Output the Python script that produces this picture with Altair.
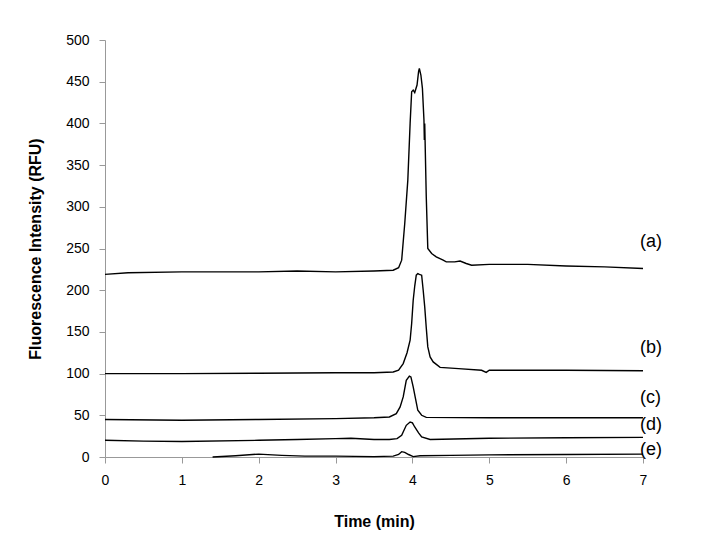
import altair as alt
import pandas as pd

# Trace (a)
a_t = [0.0, 0.3, 1.0, 2.0, 2.5, 3.0, 3.5, 3.75, 3.82, 3.86, 3.90, 3.94, 3.97, 3.99, 4.01, 4.03, 4.06, 4.08, 4.09, 4.11, 4.13, 4.15, 4.155, 4.16, 4.18, 4.20, 4.25, 4.31, 4.40, 4.44, 4.55, 4.62, 4.70, 4.77, 5.0, 5.5, 6.0, 6.5, 7.0]
a_v = [219, 221, 222, 222, 223, 222, 223, 224, 227, 236, 280, 332, 400, 438, 440, 437, 446, 462, 466, 458, 442, 404, 380, 400, 312, 250, 244, 240, 236, 234, 234, 235, 232, 230, 231, 231, 229, 228, 226]

# Trace (b)
b_t = [0.0, 1.0, 2.0, 3.0, 3.5, 3.75, 3.82, 3.88, 3.93, 3.97, 3.99, 4.01, 4.03, 4.05, 4.07, 4.09, 4.12, 4.14, 4.16, 4.18, 4.20, 4.23, 4.27, 4.36, 4.6, 4.9, 4.96, 5.0, 5.5, 6.0, 7.0]
b_v = [100, 100, 100.5, 101, 101, 102, 104, 112, 125, 140, 160, 188, 205, 218, 220, 219, 218, 200, 180, 155, 132, 120, 114, 107.5, 106, 104, 101.5, 104, 104, 104, 103.5]

# Trace (c)
c_t = [0.0, 1.0, 2.0, 3.0, 3.5, 3.7, 3.79, 3.84, 3.88, 3.92, 3.96, 3.98, 4.01, 4.04, 4.07, 4.12, 4.18, 5.0, 6.0, 7.0]
c_v = [45, 44, 45, 46, 47, 48, 52, 60, 72, 92, 97, 96, 84, 70, 56, 50, 47.5, 47, 47, 47]

# Trace (d)
d_t = [0.0, 0.5, 1.0, 2.0, 2.5, 3.0, 3.2, 3.5, 3.7, 3.8, 3.86, 3.92, 3.97, 4.00, 4.03, 4.08, 4.12, 4.23, 5.0, 6.0, 7.0]
d_v = [20, 19, 18.5, 20, 21, 22, 22.5, 21, 21, 22, 26, 38, 42, 41, 36, 29, 24, 21, 22.5, 23, 23.5]

# Trace (e)
e_t = [1.4, 1.7, 2.0, 2.3, 2.6, 3.0, 3.5, 3.75, 3.82, 3.86, 3.90, 3.95, 4.01, 4.1, 4.5, 5.0, 6.0, 7.0]
e_v = [0, 1.5, 3.5, 2, 1, 1, 0.5, 1, 3, 6.4, 5.5, 3, 0.5, 1.5, 2, 2.5, 3, 3.5]

# Labels
label_text = ["(a)", "(b)", "(c)", "(d)", "(e)"]
label_t = [6.96, 6.96, 6.96, 6.96, 6.96]
label_v = [258, 131, 71, 38, 8]

x_ticks = [0, 1, 2, 3, 4, 5, 6, 7]
y_ticks = [0, 50, 100, 150, 200, 250, 300, 350, 400, 450, 500]

FONT = "Liberation Sans"

rows = []
for name, ts, vs in [("a", a_t, a_v), ("b", b_t, b_v), ("c", c_t, c_v), ("d", d_t, d_v), ("e", e_t, e_v)]:
    for i, (t, v) in enumerate(zip(ts, vs)):
        rows.append({"series": name, "t": t, "v": v, "order": i})
df = pd.DataFrame(rows)
lab = pd.DataFrame({"label": label_text, "t": label_t, "v": label_v})

xscale = alt.Scale(domain=[0, 7], nice=False, zero=False)
yscale = alt.Scale(domain=[0, 500], nice=False)

lines = alt.Chart(df).mark_line(color="black", strokeWidth=1.4, clip=False).encode(
    x=alt.X("t:Q", scale=xscale, title="Time (min)",
            axis=alt.Axis(values=x_ticks, format="d", grid=False, tickSize=6,
                          labelPadding=10, titlePadding=26, labelFlush=False)),
    y=alt.Y("v:Q", scale=yscale, title="Fluorescence Intensity (RFU)",
            axis=alt.Axis(values=y_ticks, format="d", grid=False, tickSize=6,
                          labelPadding=10, titlePadding=22, labelFlush=False)),
    detail="series:N",
    order="order:Q",
)

labels = alt.Chart(lab).mark_text(align="left", baseline="middle", fontSize=18,
                                  font=FONT, color="black").encode(
    x=alt.X("t:Q", scale=xscale),
    y=alt.Y("v:Q", scale=yscale),
    text="label:N",
)

chart = alt.layer(lines, labels).properties(
    width=538, height=417,
    autosize=alt.AutoSizeParams(type="none"),
    padding={"left": 97, "top": 32, "right": 50, "bottom": 82},
).configure_view(stroke=None).configure_axis(
    labelFont=FONT, titleFont=FONT, labelFontSize=14, titleFontSize=16,
    labelColor="black", titleColor="black", titleFontWeight="bold",
    domainColor="#999999", tickColor="#999999", domainWidth=1, tickWidth=1,
    labelFontWeight="normal",
)

chart.save("out.html", embed_options={"renderer": "svg", "actions": False})
